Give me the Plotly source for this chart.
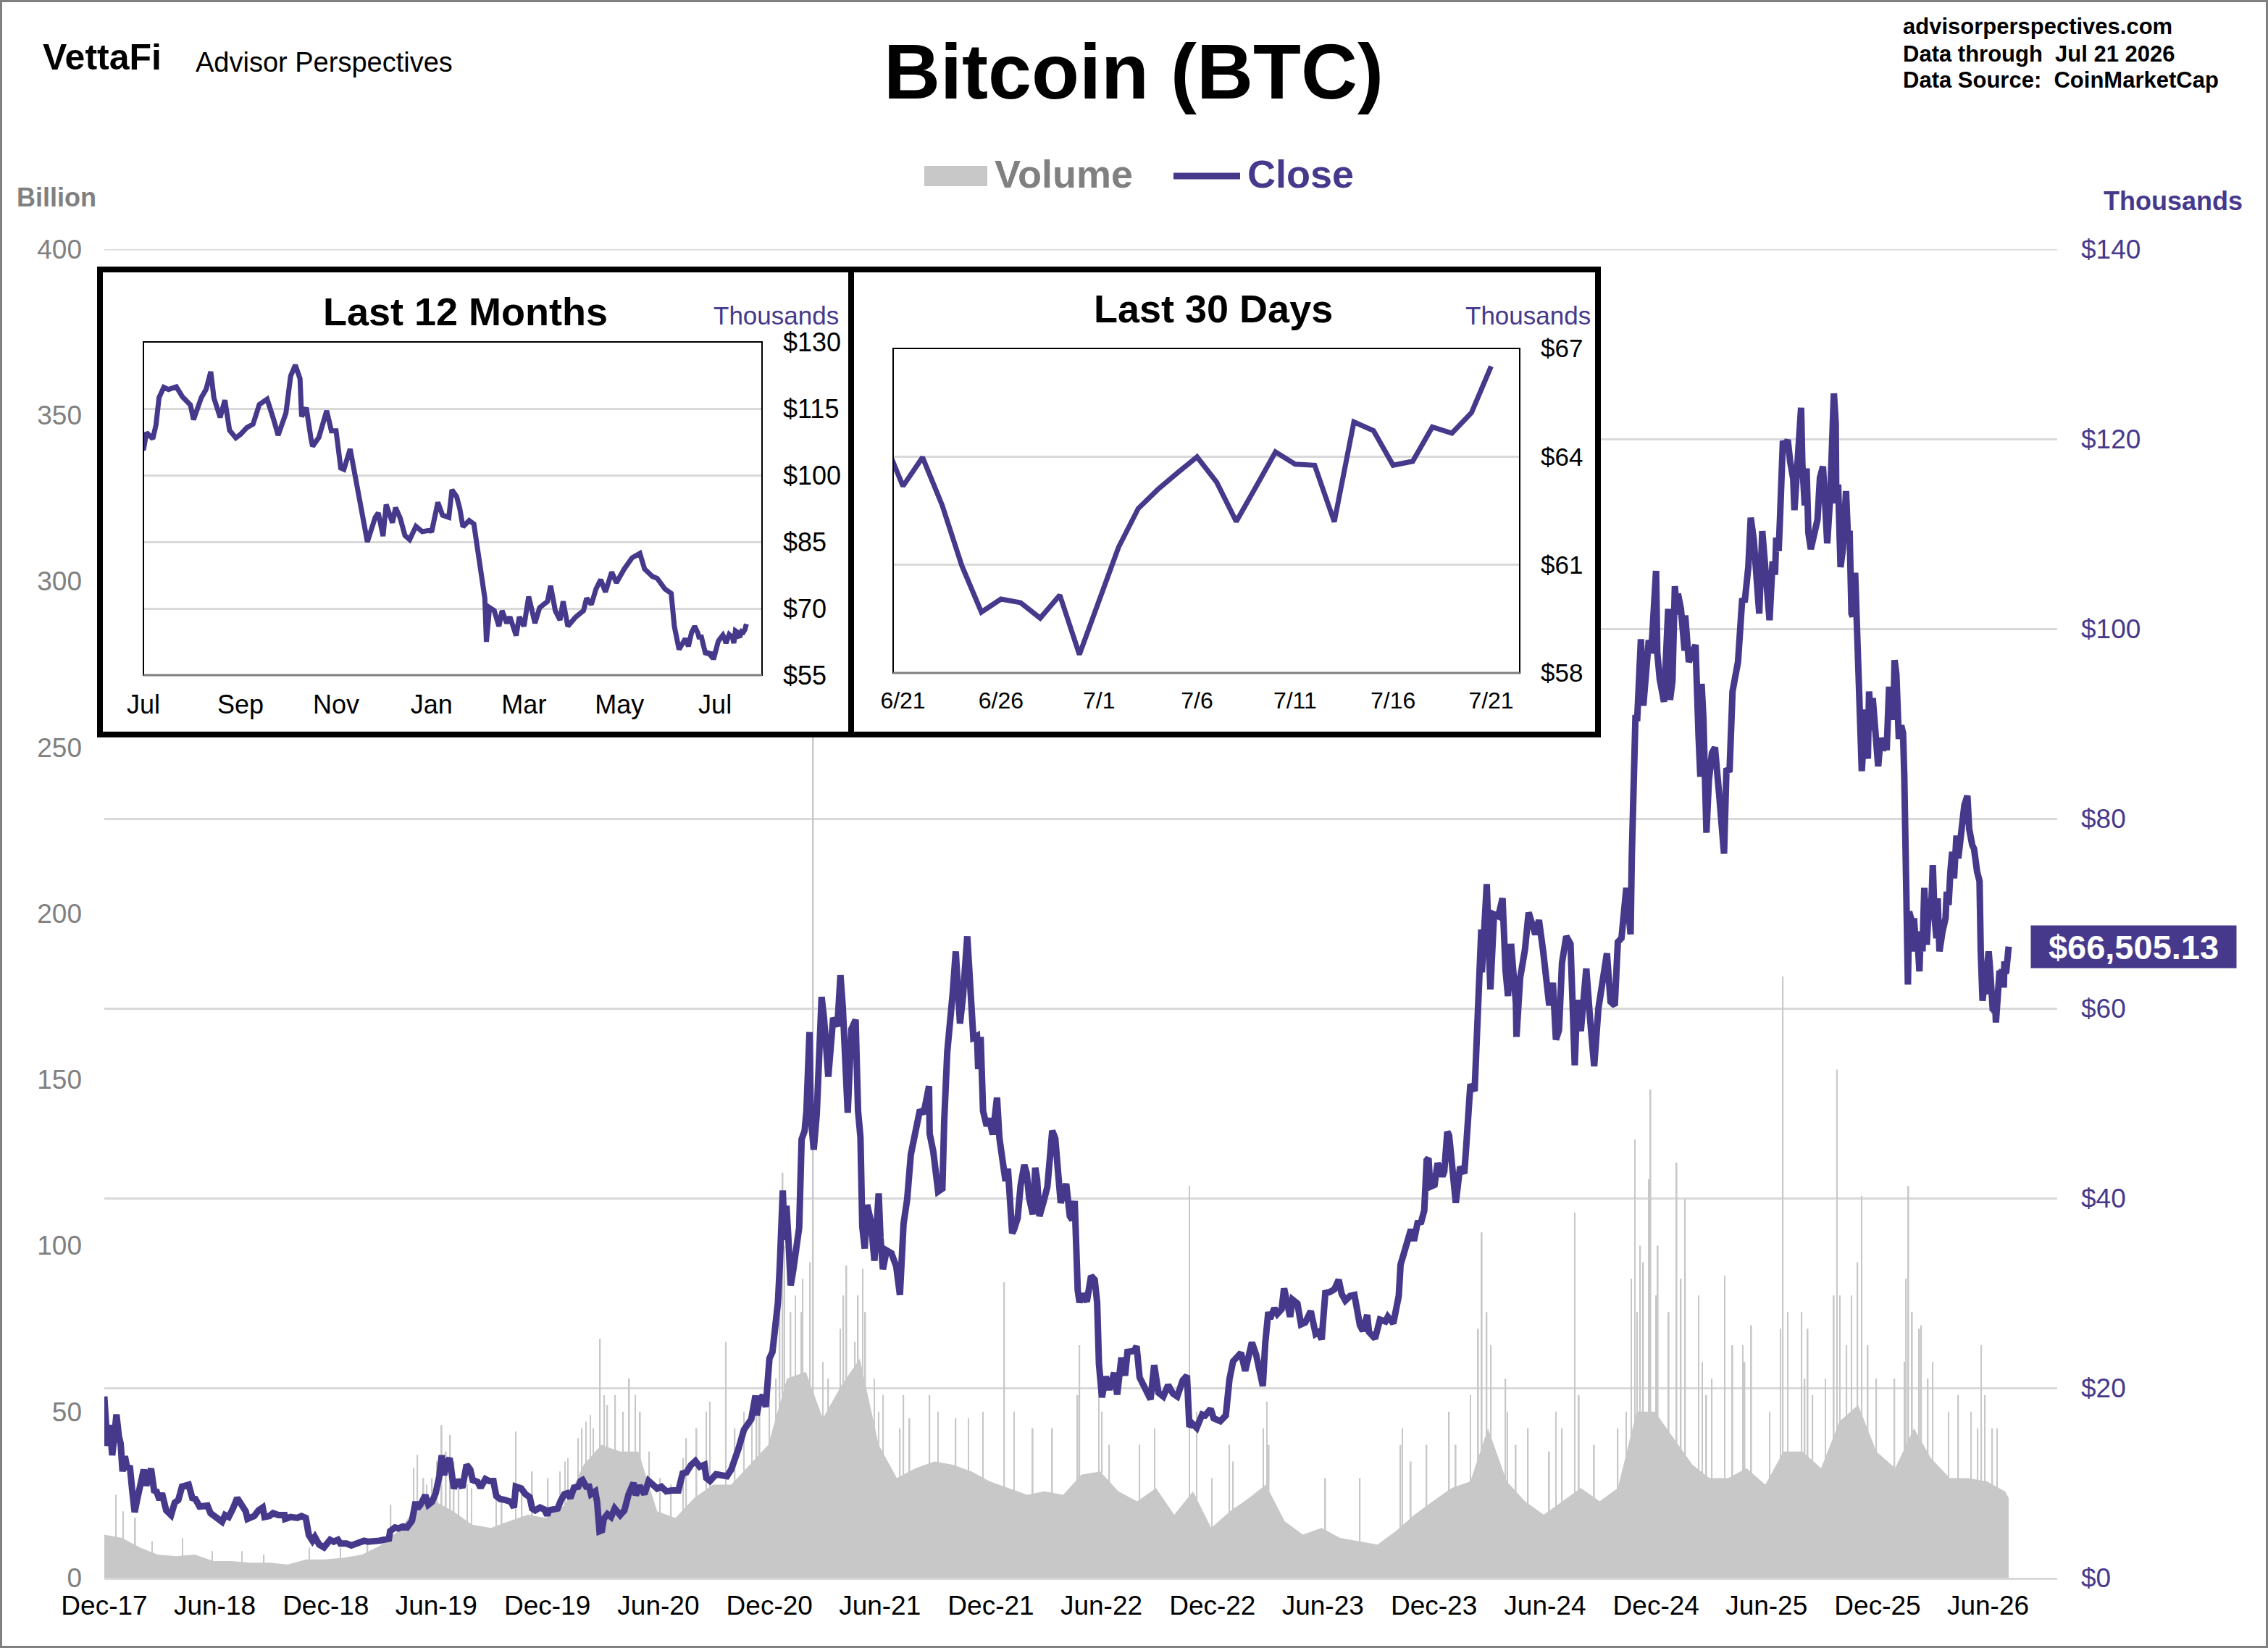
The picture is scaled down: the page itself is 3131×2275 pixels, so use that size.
import plotly.graph_objects as go
import pandas as pd

W, H = 3131, 2275
def px(x): return x / W
def py(y): return 1 - y / H

PURPLE = '#46398C'
GRID = '#D9D9D9'
VOLC = '#C8C8C8'
GREYTXT = '#808080'
FONT = 'Liberation Sans, Arial, sans-serif'

# ---------------- Close price (thousands USD) ----------------
c2017_d = ['12-17','12-20','12-22','12-26','12-30']
c2017_v = [19.1,16.6,13.9,16.1,12.9]
c2018_d = ['01-03','01-06','01-10','01-13','01-16','01-20','01-24','01-28','02-01','02-05','02-09','02-14','02-20','02-24',
           '03-04','03-09','03-13','03-18','03-22','03-29','04-06','04-12','04-18','04-24','05-05','05-11','05-16','05-23',
           '05-29','06-05','06-10','06-17','06-24','06-29','07-04','07-10','07-17','07-24','07-31','08-07','08-10','08-14',
           '08-21','08-28','09-04','09-07','09-15','09-21','09-30','10-10','10-11','10-20','10-31','11-07','11-14','11-19',
           '11-25','11-29','12-06','12-14','12-19','12-24','12-30']
c2018_v = [15.2,17.2,14.9,14.1,11.2,12.8,11.4,11.8,9.2,6.9,8.2,9.5,11.4,9.7,
           11.5,9.2,9.1,8.2,8.9,7.1,6.6,7.9,8.2,9.6,9.8,8.4,8.3,7.5,
           7.5,7.6,6.8,6.5,6.1,5.9,6.6,6.4,7.3,8.4,7.7,7.0,6.2,6.3,
           6.5,7.1,7.4,6.4,6.5,6.8,6.6,6.6,6.2,6.4,6.3,6.5,6.3,4.5,
           3.9,4.3,3.5,3.2,3.7,4.0,3.8]
c2019_d = ['01-06','01-10','01-20','01-28','02-08','02-18','02-24','03-03','03-15','03-31','04-02','04-10','04-16','04-23',
           '04-30','05-08','05-12','05-14','05-17','05-22','05-30','06-04','06-10','06-16','06-22','06-26','06-30','07-03',
           '07-09','07-16','07-22','07-30','08-06','08-12','08-16','08-24','08-29','09-06','09-12','09-19','09-24','09-30',
           '10-08','10-18','10-23','10-26','11-04','11-11','11-18','11-22','11-27','12-05','12-12','12-17','12-20','12-27']
c2019_v = [4.0,3.6,3.6,3.4,3.7,3.9,3.8,3.8,3.9,4.1,4.9,5.3,5.2,5.4,
           5.3,6.0,7.0,8.0,7.3,7.7,8.7,7.7,8.0,8.9,10.7,12.9,10.8,11.9,
           12.6,9.4,10.3,9.5,11.9,11.4,10.3,10.1,9.5,10.4,10.2,10.2,8.6,8.3,
           8.2,8.0,7.4,9.6,9.4,8.8,8.5,7.3,7.1,7.4,7.2,6.6,7.1,7.2]
c2020_d = ['01-03','01-08','01-14','01-19','01-24','01-30','02-06','02-10','02-13','02-19','02-24','02-27','03-05','03-08',
           '03-12','03-16','03-19','03-25','03-31','04-06','04-15','04-22','04-29','05-07','05-11','05-17','05-25','06-01',
           '06-10','06-15','06-22','06-30','07-10','07-20','07-27','08-02','08-10','08-17','08-24','09-01','09-04','09-10',
           '09-20','09-30','10-08','10-15','10-21','10-27','11-05','11-12','11-17','11-24','11-26','12-01','12-06','12-11',
           '12-17','12-22','12-27','12-31']
c2020_v = [7.3,8.1,8.8,8.9,8.4,9.5,9.6,10.2,10.3,9.6,9.6,8.8,9.1,8.0,
           4.9,5.0,6.2,6.7,6.4,7.3,6.6,7.1,8.8,10.0,8.7,9.7,8.8,10.2,
           9.8,9.4,9.6,9.1,9.2,9.2,11.0,11.1,11.9,12.3,11.7,11.9,10.5,10.2,
           10.9,10.8,10.7,11.4,12.8,13.6,15.6,16.3,16.7,19.2,17.1,18.8,19.2,18.0,
           23.1,23.8,26.3,29.0]
c2021_d = ['01-03','01-08','01-11','01-14','01-17','01-21','01-25','01-29','02-04','02-08','02-13','02-16','02-21','02-23',
           '02-28','03-05','03-13','03-17','03-24','03-28','04-01','04-08','04-13','04-17','04-22','04-25','05-01','05-08',
           '05-12','05-16','05-19','05-23','05-27','06-02','06-08','06-15','06-18','06-22','06-28','07-06','07-14','07-20',
           '07-26','08-01','08-07','08-14','08-22','08-28','09-06','09-07','09-13','09-21','09-28','10-01','10-06','10-15',
           '10-20','10-27','11-01','11-08','11-10','11-16','11-18','11-24','11-26','11-30','12-04','12-10','12-14','12-20',
           '12-27','12-31']
c2021_v = [32.8,40.8,35.6,39.2,36.0,30.8,32.3,34.3,36.9,46.2,47.1,49.2,57.5,48.8,
           45.1,48.9,61.2,58.9,52.8,55.9,59.0,58.1,63.5,60.0,51.8,49.0,57.8,58.8,
           49.2,46.4,37.0,34.7,39.3,37.6,33.4,40.5,35.8,32.5,34.5,34.2,32.8,29.8,
           37.3,39.9,44.6,47.0,49.3,48.9,51.8,46.8,44.9,40.7,41.0,48.1,55.4,61.6,
           66.0,58.4,61.3,67.6,65.0,60.4,56.9,57.1,53.6,57.0,49.2,47.6,48.4,46.7,
           50.6,46.3]
c2022_d = ['01-05','01-10','01-14','01-21','01-24','01-30','02-04','02-10','02-14','02-18','02-24','02-28','03-03','03-07',
           '03-14','03-20','03-28','04-02','04-06','04-11','04-20','04-26','04-30','05-04','05-09','05-12','05-16','05-24',
           '05-31','06-06','06-10','06-13','06-18','06-24','06-30','07-08','07-13','07-20','07-26','07-30','08-10','08-14',
           '08-19','08-26','09-06','09-12','09-19','09-27','10-05','10-13','10-20','10-29','11-05','11-09','11-13','11-21',
           '11-30','12-05','12-14','12-19','12-30']
c2022_v = [43.4,41.8,43.1,36.3,36.7,37.9,41.4,43.5,42.6,40.0,38.3,43.2,42.0,38.1,
           39.7,41.2,47.1,46.3,43.2,39.5,41.5,38.1,37.7,39.7,30.3,29.0,29.9,29.1,
           31.8,31.4,29.0,22.5,19.0,21.2,19.8,21.6,19.3,23.2,21.3,23.8,23.9,24.4,
           21.1,20.3,18.8,22.4,19.5,19.1,20.3,19.4,19.1,20.8,21.3,15.9,16.3,15.8,
           17.2,17.1,17.8,16.8,16.5]
c2023_d = ['01-08','01-14','01-20','01-25','02-02','02-09','02-16','02-20','02-27','03-03','03-10','03-14','03-19','03-22',
           '03-29','04-03','04-10','04-14','04-20','04-24','04-28','05-06','05-12','05-19','05-28','06-05','06-10','06-15',
           '06-21','06-28','07-06','07-13','07-18','07-24','08-01','08-08','08-17','08-22','08-29','09-01','09-11','09-19',
           '09-28','10-02','10-11','10-16','10-20','10-23','10-30','11-09','11-14','11-20','11-26','12-01','12-05','12-08',
           '12-11','12-18','12-23','12-31']
c2023_v = [17.1,20.9,22.8,23.1,23.7,21.8,23.5,24.8,23.5,22.4,20.2,24.7,28.0,27.3,
           28.4,27.8,28.3,30.5,28.2,27.5,29.3,28.9,26.7,26.9,28.1,25.7,25.9,25.1,
           30.0,30.1,30.4,31.4,29.9,29.2,29.7,29.8,26.6,26.0,27.7,25.9,25.2,27.2,
           27.0,27.5,26.8,28.5,29.7,33.0,34.5,36.7,35.5,37.4,37.5,38.7,44.0,44.2,
           41.2,41.4,43.7,42.3]
c2024_d = ['01-03','01-08','01-11','01-18','01-22','01-29','02-05','02-08','02-15','02-22','02-28','03-04','03-05','03-08',
           '03-13','03-19','03-25','04-01','04-08','04-13','04-17','04-22','04-30','05-01','05-07','05-15','05-21','06-01',
           '06-07','06-14','06-24','06-30','07-05','07-10','07-15','07-22','07-29','08-05','08-09','08-15','08-24','08-30',
           '09-06','09-13','09-20','09-27','10-03','10-10','10-15','10-21','10-29','11-04','11-05','11-07','11-11','11-13',
           '11-16','11-22','11-26','12-01','12-05','12-09','12-17','12-19','12-23','12-30']
c2024_v = [42.8,47.0,46.6,41.3,39.5,43.3,42.6,45.3,52.0,51.3,62.4,68.3,63.8,68.3,
           73.1,62.0,69.9,69.7,71.6,64.0,61.3,66.8,60.6,57.0,63.2,66.2,70.1,67.8,
           69.3,66.0,60.3,62.7,56.7,57.7,64.8,67.6,66.8,54.0,60.9,57.6,64.2,59.1,
           53.9,60.0,63.2,65.8,60.7,60.3,67.0,67.4,72.7,68.0,67.8,76.0,88.7,90.6,
           90.6,98.9,91.9,97.3,98.8,97.4,106.1,97.5,94.7,92.3]
c2025_d = ['01-06','01-09','01-13','01-17','01-20','01-22','01-27','02-02','02-03','02-09','02-20','02-25','02-28','03-02',
           '03-05','03-10','03-14','03-19','03-24','03-31','04-06','04-08','04-12','04-17','04-22','04-25','05-01','05-08',
           '05-12','05-18','05-22','05-27','06-01','06-05','06-10','06-15','06-22','06-27','07-01','07-03','07-07','07-09',
           '07-11','07-14','07-17','07-22','07-26','07-31','08-02','08-07','08-10','08-13','08-15','08-19','08-22','08-25',
           '08-29','09-01','09-05','09-09','09-13','09-18','09-22','09-25','09-30','10-03','10-06','10-09','10-10','10-13',
           '10-16','10-17','10-21','10-26','10-29','11-01','11-04','11-06','11-10','11-13','11-16','11-21','11-24','11-26',
           '11-28','12-01','12-03','12-07','12-09','12-12','12-15','12-18','12-22','12-26','12-31']
c2025_v = [102.1,92.5,94.5,104.5,101.5,103.7,102.1,97.7,101.4,96.5,98.3,88.7,84.4,94.2,
           90.6,78.5,84.0,86.9,87.5,82.5,78.2,76.3,85.3,84.9,93.4,94.7,96.5,103.2,
           102.8,106.5,111.7,109.4,105.6,101.6,110.3,105.6,100.9,107.1,105.7,109.6,108.2,111.3,
           117.5,119.8,119.3,119.9,117.6,115.8,112.5,117.5,119.3,123.3,117.4,113.0,116.9,110.1,
           108.4,109.2,110.7,111.5,115.9,117.1,112.7,109.0,114.0,122.3,124.8,121.7,113.2,115.2,
           108.2,106.5,108.5,114.5,110.0,110.0,101.6,101.3,105.9,99.7,94.5,85.0,88.3,90.5,
           91.5,86.3,93.4,89.3,92.7,90.3,86.4,85.5,88.5,87.3,87.6]
c2026_d = ['01-01','01-05','01-08','01-12','01-14','01-17','01-19','01-21','01-25','01-28','01-30','02-01','02-04','02-05',
           '02-07','02-10','02-13','02-15','02-18','02-20','02-24','02-26','03-01','03-04','03-08','03-11','03-16','03-18',
           '03-21','03-24','03-26','03-29','04-03','04-08','04-10','04-13','04-16','04-19','04-22','04-26','04-29','05-04',
           '05-09','05-14','05-17','05-22','05-25','05-30','06-03','06-05','06-08','06-12','06-14','06-16','06-18','06-20',
           '06-21','06-22','06-23','06-24','06-25','06-26','06-27','06-28','06-29','06-30','07-01','07-02','07-03','07-04',
           '07-05','07-06','07-07','07-08','07-09','07-10','07-11','07-12','07-13','07-14','07-15','07-16','07-17','07-18',
           '07-19','07-20','07-21']
c2026_v = [87.2,93.9,91.0,90.5,96.7,95.2,92.5,88.4,89.8,89.0,84.5,78.6,72.3,62.5,
           70.2,69.5,66.0,69.5,66.7,68.1,63.9,68.1,66.0,72.7,66.7,70.2,71.6,75.1,
           69.5,67.4,71.6,66.0,68.1,69.5,72.3,70.9,74.4,76.5,73.7,78.2,75.8,78.9,
           81.4,82.4,78.9,77.2,76.8,74.4,73.4,66.0,60.8,63.2,61.5,64.6,66.0,64.5,
           63.18,63.98,62.65,60.98,59.69,60.05,59.95,59.52,60.16,58.51,60.03,61.49,62.56,63.09,
           63.55,63.99,63.29,62.20,63.16,64.13,63.79,63.76,62.19,64.96,64.72,63.76,63.87,64.82,
           64.65,65.22,66.50513]

close_years = [(2017, c2017_d, c2017_v), (2018, c2018_d, c2018_v), (2019, c2019_d, c2019_v),
               (2020, c2020_d, c2020_v), (2021, c2021_d, c2021_v), (2022, c2022_d, c2022_v),
               (2023, c2023_d, c2023_v), (2024, c2024_d, c2024_v), (2025, c2025_d, c2025_v),
               (2026, c2026_d, c2026_v)]
close_x, close_y = [], []
for yr, ds, vs in close_years:
    assert len(ds) == len(vs), (yr, len(ds), len(vs))
    close_x += [f'{yr}-{d}' for d in ds]
    close_y += vs
close_x = pd.to_datetime(close_x)

# ---------------- Volume (billions USD), mid-month typical level ----------------
vol_start = ('2017-12-17', 13.0)
vol_2018 = [12, 9, 7, 6.5, 7, 5, 5, 4.5, 4.5, 4, 5.5, 5.5]
vol_2019 = [6, 7, 9.5, 14, 21, 23, 20, 16, 15, 17, 19, 18]
vol_2020 = [22, 34, 40, 38, 38, 20, 18, 24, 28, 28, 34, 40]
vol_2021 = [60, 62, 48, 58, 66, 40, 30, 33, 35, 34, 32, 29]
vol_2022 = [27, 25, 26, 25, 31, 32, 26, 23, 27, 19, 26, 15]
vol_2023 = [20, 24, 28, 17, 13, 15, 12, 11, 10, 14, 19, 23]
vol_2024 = [27, 29, 45, 29, 23, 19, 23, 27, 23, 27, 50, 50]
vol_2025 = [42, 34, 30, 30, 33, 28, 38, 38, 33, 47, 52, 38]
vol_2026 = [33, 45, 36, 30, 30, 29, 26]
vol_end = ('2026-07-21', 24.0)

vol_x, vol_y = [vol_start[0]], [vol_start[1]]
for yr, vals in [(2018, vol_2018), (2019, vol_2019), (2020, vol_2020), (2021, vol_2021), (2022, vol_2022),
                 (2023, vol_2023), (2024, vol_2024), (2025, vol_2025), (2026, vol_2026)]:
    for m, v in enumerate(vals, start=1):
        vol_x.append(f'{yr}-{m:02d}-15')
        vol_y.append(v)
vol_x.append(vol_end[0]); vol_y.append(vol_end[1])

# Single-day volume spikes
spike_dates = ['2018-01-05','2018-01-17','2018-02-06','2018-03-06','2018-04-25','2018-06-13','2018-08-01','2018-09-06',
               '2018-11-20','2019-01-10','2019-02-24','2019-04-03','2019-05-17','2019-05-27','2019-06-10','2019-06-26',
               '2019-07-10','2019-07-16','2019-08-07','2019-09-24','2019-10-26','2019-11-22','2019-12-18','2020-01-07',
               '2020-01-15','2020-02-12','2020-02-26','2020-03-13','2020-03-20','2020-04-07','2020-04-30','2020-05-10',
               '2020-06-02','2020-07-28','2020-08-02','2020-08-19','2020-09-10','2020-10-06','2020-11-18','2020-11-26',
               '2020-12-17','2021-01-08','2021-01-11','2021-01-21','2021-02-10','2021-02-27','2021-03-15','2021-04-18',
               '2021-04-23','2021-05-07','2021-05-20','2021-06-08','2021-06-22','2021-07-20','2021-09-07','2021-09-21',
               '2021-10-20','2021-12-04','2022-01-08','2022-01-24','2022-03-28','2022-05-12','2022-06-13','2022-06-18',
               '2022-09-13','2022-11-09','2022-12-16','2023-01-14','2023-03-11','2023-03-17','2023-06-21','2023-08-17',
               '2023-10-26','2023-11-09','2023-12-05','2024-01-11','2024-01-22','2024-02-28','2024-03-05','2024-03-13',
               '2024-04-13','2024-04-30','2024-06-24','2024-07-15','2024-08-05','2024-09-06','2024-10-29','2024-11-12',
               '2024-11-21','2024-12-05','2024-12-08','2025-01-20','2025-02-03','2025-03-03','2025-03-10','2025-04-09',
               '2025-05-09','2025-05-23','2025-06-22','2025-07-14','2025-08-14','2025-08-19','2025-09-01','2025-10-11',
               '2025-10-16','2025-11-04','2025-11-21','2025-12-01','2026-01-30','2026-02-06','2026-02-24','2026-02-27',
               '2026-03-10','2026-04-13','2026-05-31','2026-06-06','2026-06-24',
               '2019-05-11','2019-06-01','2019-06-18','2019-07-03','2019-07-24','2019-08-14','2019-10-03','2019-11-05',
               '2020-01-20','2020-02-06','2020-02-19','2020-03-02','2020-03-25','2020-04-20','2020-05-18','2020-06-20',
               '2020-07-08','2020-09-04','2020-10-21','2020-11-05','2020-12-01','2020-12-28','2021-01-03','2021-01-29',
               '2021-02-08','2021-02-22','2021-03-24','2021-04-13','2021-05-12','2021-05-24','2021-06-15','2021-07-26',
               '2021-08-05','2021-11-10','2022-02-24','2022-05-09','2022-06-30','2022-08-19','2022-11-21','2023-01-20',
               '2023-03-20','2023-10-23','2024-02-15','2024-03-20','2024-04-16','2024-05-20','2024-07-05','2024-08-12',
               '2024-10-15','2024-11-06','2024-11-16','2024-11-26','2024-12-17','2024-12-20','2025-01-07','2025-01-27',
               '2025-02-25','2025-03-19','2025-04-22','2025-05-12','2025-07-10','2025-07-22','2025-08-24','2025-09-22',
               '2025-10-06','2025-10-27','2025-11-14','2025-12-15','2026-01-14','2026-02-02','2026-02-12','2026-03-18',
               '2026-04-29','2026-05-20','2026-06-12','2026-07-02']
spike_vals = [25, 20, 18, 11, 12, 8, 8, 7,
              9, 9, 11, 22, 37, 30, 30, 46,
              43, 35, 28, 30, 44, 32, 30, 32,
              35, 45, 49, 72, 55, 55, 60, 55,
              38, 36, 42, 45, 53, 71, 50, 55,
              55, 122, 100, 80, 90, 253, 65, 85,
              94, 71, 93, 60, 55, 45, 55, 50,
              48, 50, 89, 50, 45, 70, 65, 50,
              45, 118, 30, 40, 45, 53, 30, 30,
              45, 35, 40, 50, 40, 75, 104, 80,
              60, 40, 38, 45, 110, 40, 50, 132,
              100, 120, 147, 125, 114, 65, 55, 91,
              70, 76, 50, 181, 80, 60, 55, 153,
              85, 85, 115, 70, 65, 118, 75, 76,
              60, 50, 45, 70, 45,
              33, 28, 35, 38, 30, 27, 24, 28,
              36, 42, 47, 45, 52, 50, 50, 30,
              28, 50, 45, 50, 52, 60, 85, 85,
              80, 95, 60, 75, 85, 80, 50, 55,
              48, 48, 45, 55, 40, 40, 50, 35,
              40, 40, 55, 70, 50, 45, 50, 55,
              45, 90, 80, 95, 85, 100, 80, 90,
              85, 60, 70, 65, 75, 80, 75, 60,
              85, 70, 95, 60, 60, 90, 80, 65,
              55, 50, 55, 45]

# ---------------- Axis ticks ----------------
main_tick_dates = ['2017-12-17','2018-06-17','2018-12-17','2019-06-17','2019-12-17','2020-06-17','2020-12-17',
                   '2021-06-17','2021-12-17','2022-06-17','2022-12-17','2023-06-17','2023-12-17','2024-06-17',
                   '2024-12-17','2025-06-17','2025-12-17','2026-06-17']
main_tick_text = ['Dec-17','Jun-18','Dec-18','Jun-19','Dec-19','Jun-20','Dec-20','Jun-21','Dec-21','Jun-22',
                  'Dec-22','Jun-23','Dec-23','Jun-24','Dec-24','Jun-25','Dec-25','Jun-26']
m12_tick_dates = ['2025-07-01','2025-09-01','2025-11-01','2026-01-01','2026-03-01','2026-05-01','2026-07-01']
m12_tick_text = ['Jul','Sep','Nov','Jan','Mar','May','Jul']
d30_tick_dates = ['2026-06-21','2026-06-26','2026-07-01','2026-07-06','2026-07-11','2026-07-16','2026-07-21']
d30_tick_text = ['6/21','6/26','7/1','7/6','7/11','7/16','7/21']

last_close = 66.50513

fig = go.Figure()
fig.add_trace(go.Scatter(x=vol_x, y=vol_y, mode='lines', fill='tozeroy', fillcolor=VOLC,
                         line=dict(width=0, color=VOLC), xaxis='x', yaxis='y', hoverinfo='skip'))
fig.add_trace(go.Bar(x=spike_dates, y=spike_vals, width=[2*86400000]*len(spike_dates),
                     marker=dict(color=VOLC, line=dict(width=0)), xaxis='x', yaxis='y', hoverinfo='skip'))
fig.add_trace(go.Scatter(x=close_x, y=close_y, mode='lines', line=dict(color=PURPLE, width=9),
                         xaxis='x', yaxis='y2'))
# blank subplot giving the inset panels a white background
fig.add_trace(go.Scatter(x=[None], y=[None], xaxis='x3', yaxis='y3', hoverinfo='skip'))
fig.add_trace(go.Scatter(x=close_x, y=close_y, mode='lines', line=dict(color=PURPLE, width=7),
                         xaxis='x4', yaxis='y4'))
fig.add_trace(go.Scatter(x=close_x, y=close_y, mode='lines', line=dict(color=PURPLE, width=7),
                         xaxis='x5', yaxis='y5'))

layout = dict(
    template='none',
    width=W, height=H, margin=dict(l=0, r=0, t=0, b=0, autoexpand=False),
    paper_bgcolor='white', plot_bgcolor='white', showlegend=False,
    font=dict(family=FONT),
    xaxis=dict(domain=[px(144), px(2840)], type='date', range=['2017-12-17', '2026-10-09'],
               tickmode='array', tickvals=main_tick_dates, ticktext=main_tick_text,
               tickfont=dict(family=FONT, size=37, color='black'), showgrid=False, zeroline=False,
               showline=True, linecolor=GRID, linewidth=3, ticks='', ticklabelstandoff=4, anchor='y',
               automargin=False),
    yaxis=dict(domain=[py(2178), py(344)], range=[0, 400], dtick=50, tickmode='linear', tick0=0,
               tickfont=dict(family=FONT, size=37, color=GREYTXT), showgrid=False, zeroline=False,
               ticks='', ticklabelstandoff=30, anchor='x', automargin=False),
    yaxis2=dict(overlaying='y', side='right', range=[0, 140], dtick=20, tickmode='linear', tick0=0,
                tickprefix='$', tickfont=dict(family=FONT, size=37, color=PURPLE),
                showgrid=True, gridcolor=GRID, gridwidth=3, zeroline=False, ticks='',
                ticklabelstandoff=32, anchor='x', automargin=False),
    xaxis3=dict(domain=[px(134), px(2210)], visible=False, anchor='y3', range=[0, 1], automargin=False),
    yaxis3=dict(domain=[py(1018), py(368)], visible=False, anchor='x3', range=[0, 1], automargin=False),
    xaxis4=dict(domain=[px(198), px(1052)], type='date', range=['2025-07-01', '2026-07-31'],
                tickmode='array', tickvals=m12_tick_dates, ticktext=m12_tick_text,
                tickfont=dict(family=FONT, size=36, color='black'), showgrid=False, zeroline=False,
                ticks='', ticklabelstandoff=16, anchor='y4', automargin=False),
    yaxis4=dict(domain=[py(932), py(472)], side='right', range=[55, 130], dtick=15, tickmode='linear', tick0=55,
                tickprefix='$', tickfont=dict(family=FONT, size=36, color='black'),
                showgrid=True, gridcolor=GRID, gridwidth=3, zeroline=False, ticks='',
                ticklabelstandoff=28, anchor='x4', automargin=False),
    xaxis5=dict(domain=[px(1233), px(2098)], type='date', range=['2026-06-20 12:00', '2026-07-22 11:00'],
                tickmode='array', tickvals=d30_tick_dates, ticktext=d30_tick_text,
                tickfont=dict(family=FONT, size=32, color='black'), showgrid=False, zeroline=False,
                ticks='', ticklabelstandoff=16, anchor='y5', automargin=False),
    yaxis5=dict(domain=[py(929), py(481)], side='right', range=[58, 67], dtick=3, tickmode='linear', tick0=58,
                tickprefix='$', tickfont=dict(family=FONT, size=35, color='black'),
                showgrid=True, gridcolor=GRID, gridwidth=3, zeroline=False, ticks='',
                ticklabelstandoff=28, anchor='x5', automargin=False),
)
fig.update_layout(**layout)

shapes = []
# top gridline of the main chart ($140)
shapes.append(dict(type='line', xref='x domain', yref='y2', x0=0, x1=1, y0=140, y1=140,
                   line=dict(color=GRID, width=3), layer='below'))
# inset frames
for ax in ('4', '5'):
    shapes.append(dict(type='rect', xref=f'x{ax} domain', yref=f'y{ax} domain', x0=0, x1=1, y0=0, y1=1,
                       line=dict(color='black', width=2), layer='above'))
    shapes.append(dict(type='line', xref=f'x{ax} domain', yref=f'y{ax} domain', x0=0, x1=1, y0=0, y1=0,
                       line=dict(color=GREYTXT, width=3), layer='above'))
# thick inset boxes
for x0, x1 in ((138, 1175), (1175, 2206)):
    shapes.append(dict(type='rect', xref='paper', yref='paper', x0=px(x0), x1=px(x1), y0=py(1014), y1=py(372),
                       line=dict(color='black', width=8), layer='above'))
# legend marks
shapes.append(dict(type='rect', xref='paper', yref='paper', x0=px(1276), x1=px(1363), y0=py(257), y1=py(229),
                   fillcolor=VOLC, line=dict(width=0)))
shapes.append(dict(type='line', xref='paper', yref='paper', x0=px(1620), x1=px(1712), y0=py(243), y1=py(243),
                   line=dict(color=PURPLE, width=9)))
# outer border
shapes.append(dict(type='rect', xref='paper', yref='paper', x0=0, x1=1, y0=0, y1=1,
                   line=dict(color=GREYTXT, width=6), layer='above'))
fig.update_layout(shapes=shapes)

def ann(text, x, y, size, color='black', bold=False, xanchor='left', **kw):
    t = f'<b>{text}</b>' if bold else text
    d = dict(text=t, x=px(x), y=py(y), xref='paper', yref='paper', showarrow=False,
             xanchor=xanchor, yanchor='middle', font=dict(family=FONT, size=size, color=color))
    d.update(kw)
    return d

annotations = [
    ann('Bitcoin (BTC)', 1565, 98, 108, bold=True, xanchor='center'),
    ann('VettaFi', 57, 79, 50, bold=True),
    ann('Advisor Perspectives', 268, 86, 38),
    ann('advisorperspectives.com', 2625, 36, 31, bold=True),
    ann('Data through\u00a0 Jul 21 2026', 2625, 74, 31, bold=True),
    ann('Data Source:\u00a0 CoinMarketCap', 2625, 110, 31, bold=True),
    ann('Volume', 1371, 240, 54, color=GREYTXT, bold=True),
    ann('Close', 1720, 240, 54, color=PURPLE, bold=True),
    ann('Billion', 21, 272, 36, color=GREYTXT, bold=True),
    ann('Thousands', 3098, 277, 36, color=PURPLE, bold=True, xanchor='right'),
    ann('Last 12 Months', 642, 430, 54, bold=True, xanchor='center'),
    ann('Thousands', 1160, 436, 35, color=PURPLE, xanchor='right'),
    ann('Last 30 Days', 1675, 426, 54, bold=True, xanchor='center'),
    ann('Thousands', 2198, 436, 35, color=PURPLE, xanchor='right'),
    dict(text='<b>$66,505.13</b>', x=px(2945.5), y=last_close, xref='paper', yref='y2', showarrow=False,
         xanchor='center', yanchor='middle', bgcolor=PURPLE, width=283, height=58, borderpad=0,
         font=dict(family=FONT, size=47, color='white')),
]
fig.update_layout(annotations=annotations)

fig.write_html('out.html')
